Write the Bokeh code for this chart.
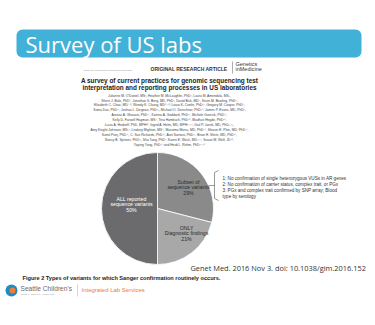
from bokeh.plotting import figure
from bokeh.models import Range1d, BoxAnnotation, ColumnDataSource
from bokeh.core.properties import value
from bokeh.embed import file_html
from bokeh.resources import INLINE
import math

# ---- data ----
categories = ["Subset of\nsequence variants", "ONLY\nDiagnostic findings", "ALL reported\nsequence variants"]
percents = [29, 21, 50]
slice_colors = ["#8a8a8b", "#a8a8a8", "#6b6b6d"]
label_colors = ["#2a2a2a", "#2a2a2a", "#ffffff"]

notes = [
    "1: No confirmation of single heterozygous VUSs in AR genes",
    "2: No confirmation of carrier status, complex trait, or PGx",
    "3: PGx and complex trait confirmed by SNP array; Blood",
    "    type by serology",
]

authors = [
    "Julianne M. O'Daniel, MS\u00b9, Heather M. McLaughlin, PhD\u00b2, Laura M. Amendola, MS\u00b3,",
    "Sherri J. Bale, PhD\u2074, Jonathan S. Berg, MD, PhD\u00b9, David Bick, MD\u2075, Kevin M. Bowling, PhD\u2076,",
    "Elizabeth C. Chao, MD\u2077\u02d2\u2078, Wendy K. Chung, MD\u2079\u02d2\u00b9\u2070, Laura K. Conlin, PhD\u00b9\u00b9, Gregory M. Cooper, PhD\u2076,",
    "Soma Das, PhD\u00b9\u00b2, Joshua L. Deignan, PhD\u00b9\u00b3, Michael O. Dorschner, PhD\u00b9\u2074, James P. Evans, MD, PhD\u00b9,",
    "Arezou A. Ghazani, PhD\u00b9\u2075, Katrina A. Goddard, PhD\u00b9\u2076, Michele Gornick, PhD\u00b9\u2077,",
    "Kelly D. Farwell Hagman, MS\u2077, Tina Hambuch, PhD\u00b9\u2078, Madhuri Hegde, PhD\u00b9\u2079,",
    "Lucia A. Hindorff, PhD, MPH\u00b2\u2070, Ingrid A. Holm, MD, MPH\u00b2\u00b9\u02d2\u00b2\u00b2, Gail P. Jarvik, MD, PhD\u00b3\u02d2\u00b2\u00b3,",
    "Amy Knight Johnson, MS\u00b9\u00b2, Lindsey Mighion, MS\u2074, Massimo Morra, MD, PhD\u00b2\u2074, Sharon E. Plon, MD, PhD\u00b2\u2075,",
    "Sumit Punj, PhD\u00b2\u2076, C. Sue Richards, PhD\u00b2\u2076, Avni Santani, PhD\u00b9\u00b9, Brian H. Shirts, MD, PhD\u00b9\u2074,",
    "Nancy B. Spinner, PhD\u00b9\u00b9, Sha Tang, PhD\u2077, Karen E. Weck, MD\u00b9\u02d2\u00b2\u2077, Susan M. Wolf, JD\u00b2\u2078,",
    "Yaping Yang, PhD\u00b2\u2075 and Heidi L. Rehm, PhD\u00b2\u00b9\u02d2\u00b2\u2079",
]

W, H = 375, 325
def Y(py):
    return H - py

p = figure(width=W, height=H, output_backend="svg", toolbar_location=None,
           x_range=Range1d(0, W), y_range=Range1d(0, H), min_border=0)
p.axis.visible = False
p.grid.visible = False
p.outline_line_color = None
p.background_fill_color = "white"
p.border_fill_color = "white"

SANS = value("Liberation Sans")
TITLE_FONT = value("Open Sans")

# banner
p.add_layout(BoxAnnotation(left=16, right=361, bottom=Y(57), top=Y(29),
                           fill_color="#42b1d8", fill_alpha=1, line_color=None,
                           border_radius=6, level="underlay"))
p.text(x=[25], y=[Y(43.5)], text=["Survey of US labs"], text_font=TITLE_FONT,
       text_font_size="22px", text_color="white", text_baseline="middle")

# journal header
p.text(x=[82], y=[Y(70)], text=["A Journal of the American College of Medical Genetics and Genomics"],
       text_font=SANS, text_font_size="1.6px", text_color="#888888", text_baseline="middle")
p.text(x=[150], y=[Y(68)], text=["ORIGINAL RESEARCH ARTICLE"], text_font=SANS,
       text_font_size="5px", text_font_style="bold", text_color="#333333", text_baseline="middle")
p.segment(x0=[232], y0=[Y(61)], x1=[232], y1=[Y(73)], line_color="#777777", line_width=0.6)
p.text(x=[235, 235], y=[Y(63), Y(68.5)], text=["Genetics", "inMedicine"], text_font=SANS,
       text_font_size="5.5px", text_color="#333333", text_baseline="middle")

# paper title
p.text(x=[169, 169], y=[Y(80), Y(87)],
       text=["A survey of current practices for genomic sequencing test",
             "interpretation and reporting processes in US laboratories"],
       text_font=SANS, text_font_size="6.4px", text_font_style="bold",
       text_color="#222222", text_align="center", text_baseline="middle")

# authors
p.text(x=[169] * len(authors), y=[Y(95 + 4.9 * i) for i in range(len(authors))], text=authors,
       text_font=SANS, text_font_size="3.3px", text_color="#444444",
       text_align="center", text_baseline="middle")

# pie
cx, cy, r = 157, Y(208), 56
total = float(sum(percents))
starts, ends = [], []
a = math.pi / 2
for v in percents:
    starts.append(a)
    a -= 2 * math.pi * v / total
    ends.append(a)
src = ColumnDataSource(dict(start=starts, end=ends, color=slice_colors))
p.wedge(x=cx, y=cy, radius=r, start_angle="start", end_angle="end", direction="clock",
        fill_color="color", line_color="white", line_width=0.8, source=src)

# pie labels
label_pos = [(188, 181), (186, 227), (131, 198)]
for (lx, ly), cat, pc, col in zip(label_pos, categories, percents, label_colors):
    lines = cat.split("\n") + [f"{pc}%"]
    p.text(x=[lx] * len(lines), y=[Y(ly + 5.6 * i) for i in range(len(lines))], text=lines,
           text_font=SANS, text_font_size="5.2px", text_color=col,
           text_align="center", text_baseline="middle")

# bracket + notes
p.line(x=[218, 214, 214, 218], y=[Y(170), Y(172), Y(198), Y(200)], line_color="#555555", line_width=0.6)
p.segment(x0=[208], y0=[Y(185)], x1=[214], y1=[Y(185)], line_color="#555555", line_width=0.6)
p.text(x=[222] * len(notes), y=[Y(178 + 6 * i) for i in range(len(notes))], text=notes,
       text_font=SANS, text_font_size="4.6px", text_color="#333333", text_baseline="middle")

# citation
p.text(x=[190], y=[Y(267)], text=["Genet Med. 2016 Nov 3. doi: 10.1038/gim.2016.152"],
       text_font=TITLE_FONT, text_font_size="7.4px", text_color="#333333", text_baseline="middle")

# figure caption
p.text(x=[22], y=[Y(277)], text=["Figure 2  Types of variants for which Sanger confirmation routinely occurs."],
       text_font=SANS, text_font_size="5.6px", text_font_style="bold", text_color="#222222",
       text_baseline="middle")

# footer logo
p.scatter(x=[11], y=[Y(290)], size=12, marker="circle", fill_color="#1f8bc4", line_color=None)
p.scatter(x=[12], y=[Y(290)], size=6, marker="circle", fill_color="#f07c3a", line_color=None)
p.text(x=[20], y=[Y(288)], text=["Seattle Children's"], text_font=SANS,
       text_font_size="6.6px", text_color="#6a6a6a", text_baseline="middle")
p.text(x=[20], y=[Y(294)], text=["HOSPITAL \u00b7 RESEARCH \u00b7 FOUNDATION"], text_font=SANS,
       text_font_size="1.8px", text_color="#999999", text_baseline="middle")
p.segment(x0=[77], y0=[Y(284)], x1=[77], y1=[Y(296)], line_color="#bbbbbb", line_width=0.6)
p.text(x=[81], y=[Y(289)], text=["Integrated Lab Services"], text_font=SANS,
       text_font_size="6px", text_color="#ea7a3c", text_baseline="middle")

open("out.html", "w").write(file_html(p, INLINE))
